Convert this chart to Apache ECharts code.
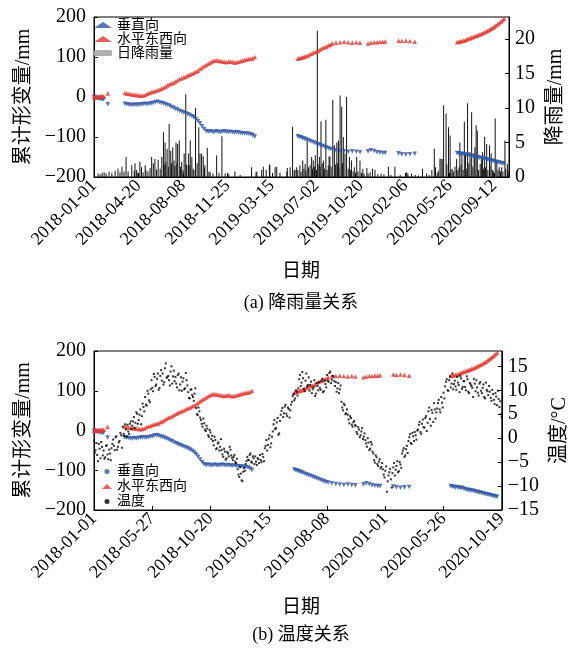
<!DOCTYPE html>
<html><head><meta charset="utf-8">
<script src="https://cdn.jsdelivr.net/npm/echarts@6/dist/echarts.min.js"></script>
<style>html,body{margin:0;padding:0;background:#fff}#c{width:578px;height:650px}</style>
</head><body><div id="c"></div>
<script>
// ---- data (day index from 2018-01-01) ----
const defDays = [0,3,6,9,12,15,18,21,24,34,
76,81,86,91,96,101,106,111,116,121,126,131,136,141,146,151,156,161,166,171,176,181,186,191,196,201,206,211,216,221,226,231,236,241,246,251,256,261,266,271,276,281,286,291,296,301,306,311,316,321,326,331,336,341,346,351,356,361,366,371,376,381,386,391,396,
502,506,510,514,518,522,527,532,537,542,547,552,557,562,567,572,577,582,587,596,606,616,626,636,646,655,675,682,690,697,704,711,717,750,758,768,778,790,
894,898,902,906,910,914,918,922,926,930,934,938,942,946,950,954,958,962,966,970,974,978,982,986,990,994,998,1002,1006,1010];
const vertical = [0,-2,-3,-2,-4,-5,-4,-6,-5,-18,
-17,-18,-19,-20,-20,-19,-20,-19,-18,-18,-17,-18,-17,-16,-15,-13,-12,-13,-15,-16,-18,-20,-22,-25,-27,-30,-32,-35,-37,-39,-41,-43,-45,-48,-51,-55,-60,-66,-73,-80,-85,-87,-86,-87,-88,-86,-87,-88,-87,-86,-87,-88,-87,-88,-89,-88,-89,-90,-91,-91,-92,-92,-93,-96,-99,
-98,-100,-101,-103,-104,-106,-108,-110,-112,-114,-116,-118,-120,-122,-124,-126,-128,-130,-131,-133,-135,-136,-137,-136,-137,-138,-136,-133,-135,-138,-139,-140,-140,-141,-143,-144,-143,-142,
-140,-141,-142,-143,-142,-144,-145,-144,-146,-147,-149,-150,-150,-151,-152,-153,-154,-155,-156,-157,-158,-159,-160,-161,-162,-163,-164,-165,-166,-167];
const horizontal = [0,1,-1,2,0,1,3,1,2,9,
10,9,8,7,6,6,5,4,3,4,5,8,10,12,14,15,17,18,21,23,26,29,32,34,36,39,42,45,47,49,51,54,56,58,61,63,66,70,74,77,80,83,86,89,91,92,91,90,89,88,87,88,89,88,86,87,88,90,91,93,94,95,96,97,100,
96,97,98,99,101,102,104,107,109,112,113,115,119,122,124,126,129,131,134,136,137,138,137,136,137,136,134,136,137,137,138,138,139,141,140,141,140,138,
137,138,139,140,141,142,144,146,147,149,150,152,153,155,156,158,160,162,164,166,168,171,173,176,179,182,185,188,192,196];
// daily rainfall [day, mm]
const rainfall = [[10,0.5],[15,0.4],[20,0.6],[25,0.7],[30,0.5],[37,0.8],[44,0.6],[52,0.9],[59,1.2],[64,0.7],[69,1.5],[74,0.8],
[79,2.9],[84,0.8],[93,1.7],[99,0.9],[101,2.0],[105,1.0],[108,0.6],[113,2.2],[117,1.4],[121,0.7],[126,1.7],[128,1.0],[133,0.8],[138,1.3],[142,2.9],[146,2.0],[150,2.6],[154,1.1],[158,2.5],[163,1.2],[167,2.9],[171,6.5],[173,1.8],[175,5.0],[177,2.2],[180,4.1],[183,1.5],[185,7.7],[189,3.8],[191,2.0],[194,4.3],[197,2.4],[199,1.6],[202,5.0],[204,2.0],[206,4.8],[210,5.3],[213,1.5],[216,2.2],[219,1.0],[222,3.4],[226,12.0],[228,1.8],[232,1.7],[233,3.4],[236,1.7],[237,5.3],[241,2.9],[244,1.2],[246,1.0],[250,10.0],[254,2.0],[258,7.2],[261,3.4],[265,3.4],[269,3.0],[272,1.2],[273,1.7],[279,4.2],[283,0.8],[286,0.7],[293,0.5],[302,3.1],[308,0.6],[315,5.9],[323,0.5],[332,0.4],[347,0.8],[360,0.3],
[388,1.4],[399,0.7],[401,0.8],[413,1.0],[417,1.5],[424,1.0],[432,1.8],[433,1.7],[446,1.4],[450,1.5],[458,0.6],[475,0.8],[476,1.3],[483,1.4],[489,7.3],[493,1.0],[495,1.0],[499,1.4],[502,1.0],[507,1.7],[510,0.8],[514,2.4],[517,1.2],[520,1.9],[522,0.9],[525,5.3],[528,1.4],[532,1.7],[536,2.9],[538,1.2],[540,2.4],[543,1.5],[545,3.1],[548,1.0],[550,21.2],[552,1.8],[555,2.9],[557,1.5],[559,8.1],[562,2.0],[565,2.4],[568,1.2],[571,8.3],[574,1.0],[577,1.7],[579,3.0],[581,2.9],[584,1.5],[588,11.2],[592,4.6],[595,1.8],[598,5.0],[600,2.0],[602,5.3],[603,1.4],[606,11.8],[610,10.2],[612,2.0],[614,5.8],[618,3.4],[622,11.6],[626,1.2],[629,2.9],[632,1.0],[634,2.4],[638,0.8],[641,1.4],[644,0.6],[647,2.9],[650,0.8],[655,2.4],[659,0.6],[662,1.2],[665,0.5],[672,1.3],[675,0.5],[680,0.7],[686,1.2],[692,1.0],[699,0.4],[707,0.5],[714,0.4],[725,1.5],[731,0.3],[741,1.5],[754,0.3],[770,0.7],[773,0.5],[782,0.5],[791,0.3],[799,0.2],[809,1.2],[819,0.5],[825,0.3],[832,1.0],[838,4.1],[841,1.4],[845,0.6],[848,0.9],[852,2.7],[855,2.6],[859,2.6],[861,10.4],[867,9.2],[869,1.8],[873,7.2],[877,6.0],[879,1.0],[882,1.2],[885,0.8],[889,1.5],[893,2.6],[896,1.0],[899,1.4],[901,5.0],[904,1.8],[906,3.6],[909,1.0],[912,8.0],[915,3.4],[918,1.2],[920,10.7],[923,2.0],[926,3.4],[930,9.4],[933,1.5],[936,3.4],[938,4.3],[941,7.5],[944,6.7],[947,1.0],[951,1.9],[954,2.6],[957,3.6],[959,1.2],[962,5.8],[964,1.4],[967,4.8],[970,1.0],[974,4.6],[975,1.6],[978,3.4],[981,1.0],[984,0.8],[988,8.5],[992,2.4],[995,1.0],[998,1.4],[1001,0.8],[1004,1.4],[1007,0.8],[1012,5.3],[1014,1.2],[1018,1.9],[1020,0.8]];
// temperature, every 4 days from day 0 (A) and from day 2 (B)
const tempA = [-0.5,-2.5,-3.5,-1.2,-4.2,-1.8, -2.6,-4,-1.5,-4.4,-3.2,-2.1, -0.3,-2.5,0.4,-1.8,-0.6,0.6, 2.4,0.5,1.8,2.8,0.9,3.5,
2.6,4.4,3.2,5.1,3.8,6.0,4.6,6.5, 8.6,6.8,9.3,7.5, 12.1,9.8,12.8,11.2,13.5,10.5,14.2, 13.5,11.7,15.6,12.8,12.1,13.9,11.4,14.1,
12.8,10.6,13.5,11.2,9.9,12.5,10.4,12.1, 9.6,8.3,10.2,8.6,9.3, 6.3,4.8,5.6, 3.8,2.4,3.1,1.5,2.0,0.3,1.2, 0.5,-1.5,-0.4,-2.1,-0.9,-1.8,
-2.5,-3.9,-2.8,-4.2,-3.2,-1.8,-3.6, -4.6,-3.5,-5.2, -6.5,-8.1,-7.4,-9.0,-6.2,-5.4, -3.9,-4.6,-3.2,-5.1,-4.2, -3.8,-5.6,-4.4,-3.5,-5.0,-3.9,
-2.1,-0.4,-1.4,0.6,-1.1, 1.4,3.8,2.1,4.2,1.0, 4.9,6.3,5.2,7.0,4.6,6.1,5.8, 7.6,9.2,8.3,9.7, 10.4,13.2,11.6,12.5,9.8,13.5,11.1,
9.9,11.8,10.2,12.1,9.3,10.9, 11.7,10.1,12.4,9.8,11.3, 13.2,11.8,13.9,12.2,12.9, 10.9,9.7,11.5,10.2, 7.6,5.8,6.9,5.2, 4.9,3.1,4.2,2.4,3.6,
2.6,0.9,1.8,0.6,2.1,0.3, -0.4,-1.8,-0.9,-2.2,-1.3, -3.2,-5.1,-4.0,-5.8,-4.4,-6.0, -6.5,-8.2,-5.9,-9.0,-7.1,-8.6, -7.3,-5.2,-6.6,-4.8,-6.9,-5.5,
-3.2,-2.1,-3.6,-1.6, -0.6,0.8,-1.2,0.4,1.3,-0.3, 1.8,3.4,0.9,3.9,2.2,4.6, 3.2,6.4,2.6,5.3,7.3,4.1, 6.2,8.0,5.4,7.4,9.5,
10.8,12.3,9.9,12.9,11.4,10.2, 12.0,10.1,11.6,9.6,12.5,10.7, 11.9,10.0,12.3,9.4,11.2,10.5,12.4,9.8, 10.6,8.9,11.7,9.4,11.2,8.3,10.1,9.0,
9.7,7.8,9.2,7.1,8.7,9.9,6.5, 5.0];
const tempB = [-3.0,-1.0,-4.8,-2.2,-0.8,-3.6, -4.3,-1.6,-3.4,-2.4,-4.6,-1.2, -1.6,0.2,-2.4,-0.9,1.1,-2.0, 0.9,2.9,0.3,1.4,3.0,1.9,
3.5,2.1,5.4,3.0,4.9,2.9,7.2,5.6, 7.0,9.9,7.9,10.2, 10.5,13.4,10.9,12.4,10.1,13.0,12.0, 11.2,14.6,12.6,13.0,11.0,15.0,12.9,11.9,
11.4,13.2,10.0,12.7,11.8,10.2,13.6,11.0, 8.4,10.1,9.0,7.8,10.4, 5.0,6.4,4.3, 3.0,4.1,1.8,2.6,0.6,1.7,-0.2, -0.6,0.3,-2.3,-1.1,-2.6,-0.2,
-3.4,-2.2,-4.5,-2.9,-3.8,-2.4,-4.1, -3.9,-4.9,-4.3, -7.6,-6.0,-8.8,-7.0,-6.8,-4.8, -4.5,-3.5,-4.9,-3.8,-5.4, -4.9,-4.2,-5.2,-4.6,-3.3,-4.8,
-1.6,-2.6,-0.1,-1.9,0.3, 2.9,1.9,3.3,0.7,3.6, 5.7,4.4,6.6,5.1,6.4,4.3,7.0, 8.8,7.9,10.0,8.9, 12.3,10.9,13.8,10.3,12.0,10.8,12.7,
11.1,9.4,10.6,8.8,11.5,10.0, 10.5,11.9,9.6,12.0,10.6, 12.0,13.6,11.5,13.0,11.9, 11.7,10.4,9.4,11.0, 6.4,7.2,5.0,6.0, 3.9,4.6,2.8,3.3,2.7,
1.3,2.3,0.2,1.4,-0.2,1.0, -1.1,0.0,-2.5,-0.8,-2.8, -4.6,-3.6,-5.4,-4.9,-6.3,-5.2, -7.6,-6.8,-11.2,-7.8,-6.4,-10.3, -6.1,-7.8,-5.8,-7.1,-5.0,-6.2,
-2.6,-3.9,-2.3,-3.1, 0.2,-1.0,1.1,-0.6,0.6,1.6, 2.8,1.3,3.0,2.3,4.2,1.5, 5.6,4.0,5.9,3.4,6.0,5.4, 7.3,6.0,8.6,6.4,8.3,
11.8,10.0,12.1,10.6,13.5,11.3, 10.8,12.8,11.1,13.0,10.3,11.9, 10.7,12.9,9.7,11.5,10.9,8.6,11.4,12.1, 9.5,11.4,9.9,10.5,8.6,11.6,9.8,10.9,
8.4,10.1,8.0,9.4,6.9,8.2,7.7, 4.4];
const topTickInterval = 109.5;   // 2018-01-01, 2018-04-20, ...
const bottomTickInterval = 146;  // 2018-01-01, 2018-05-27, ...
const lastDay = 1022;            // 2020-10-19

// ---- build ----
const FONT = "'Liberation Serif','Times New Roman','DejaVu Serif','Noto Sans CJK SC',serif";
const BLUE = '#2f55a4', RED = '#e03a32';
function dayLabel(d){const t=new Date(Date.UTC(2018,0,1)+Math.floor(d+1e-6)*86400000);return t.toISOString().slice(0,10);}
const minus = v => String(v).replace('-', '\u2212');
const vData = defDays.map((d,i)=>[d, vertical[i]]);
const hData = defDays.map((d,i)=>[d, horizontal[i]]);
const tData = tempA.map((v,i)=>[i*4, v]).concat(tempB.map((v,i)=>[i*4+2, v]));

function xAxis(grid, interval){
  return {type:'value', gridIndex:grid, min:0, max:lastDay, interval:interval,
    axisLine:{onZero:false, lineStyle:{color:'#000',width:1}}, splitLine:{show:false},
    axisTick:{inside:true,length:4,lineStyle:{color:'#000'}},
    axisLabel:{rotate:45, margin:6, color:'#000', fontSize:18, fontFamily:FONT, formatter:dayLabel, showMaxLabel: grid===1, showMinLabel:true}};
}
function yAxis(grid, pos, min, max, interval, name, gap){
  return {type:'value', gridIndex:grid, position:pos, min:min, max:max, interval:interval,
    name:name, nameLocation:'middle', nameRotate:90, nameGap:gap,
    nameTextStyle:{color:'#000', fontSize:20, fontFamily:FONT},
    axisLine:{show:true, onZero:false, lineStyle:{color:'#000',width:1}}, splitLine:{show:false},
    axisTick:{inside:true,length:4,lineStyle:{color:'#000'}},
    axisLabel:{color:'#000', fontSize:20, fontFamily:FONT, margin:pos==='left'?8:6, formatter:minus, showMaxLabel:(max%interval===0)}};
}
const tri = (name, data, color, rot, xi, yi) => ({name, type:'scatter', xAxisIndex:xi, yAxisIndex:yi, data,
  symbol:'triangle', symbolRotate:rot, symbolSize:4.6, itemStyle:{color}, z:3});

const option = {
  animation:false,
  textStyle:{fontFamily:FONT},
  grid:[
    {left:94, top:17, width:415, height:160, show:true, borderColor:'#000', borderWidth:1},
    {left:94, top:351, width:415, height:159, show:true, borderColor:'#000', borderWidth:1}
  ],
  xAxis:[xAxis(0, topTickInterval), xAxis(1, bottomTickInterval)],
  yAxis:[
    yAxis(0,'left',-200,200,100,'累计形变量/mm',58),
    yAxis(0,'right',0,23.2,5,'降雨量/mm',31),
    yAxis(1,'left',-200,200,100,'累计形变量/mm',58),
    yAxis(1,'right',-15,18.2,5,'温度/°C',35)
  ],
  legend:[
    {left:94, top:18, orient:'vertical', padding:0, itemGap:0, itemWidth:18, itemHeight:6,
     textStyle:{fontSize:14, lineHeight:13, color:'#000', fontFamily:FONT},
     data:['垂直向','水平东西向',{name:'日降雨量', itemStyle:{color:'#b0b0b0'}}]},
    {left:102, top:464, orient:'vertical', padding:0, itemGap:0, itemWidth:10, itemHeight:5,
     textStyle:{fontSize:14, lineHeight:15, color:'#000', fontFamily:FONT},
     data:[{name:'垂直向 ', icon:'circle'},'水平东西向 ',{name:'温度', icon:'circle'}]}
  ],
  graphic:[
    {type:'text', x:301, y:272, style:{text:'日期', align:'center', verticalAlign:'middle', fontSize:19, fontFamily:FONT, fill:'#000'}},
    {type:'text', x:301, y:303, style:{text:'(a) 降雨量关系', align:'center', verticalAlign:'middle', fontSize:18, fontFamily:FONT, fill:'#000'}},
    {type:'text', x:301, y:608, style:{text:'日期', align:'center', verticalAlign:'middle', fontSize:19, fontFamily:FONT, fill:'#000'}},
    {type:'text', x:301, y:635, style:{text:'(b) 温度关系', align:'center', verticalAlign:'middle', fontSize:18, fontFamily:FONT, fill:'#000'}}
  ],
  series:[
    {name:'日降雨量', type:'bar', xAxisIndex:0, yAxisIndex:1, data:rainfall, barWidth:1, itemStyle:{color:'#111'}, z:2},
    tri('垂直向', vData, BLUE, 180, 0, 0),
    tri('水平东西向', hData, RED, 0, 0, 0),
    tri('垂直向 ', vData, BLUE, 180, 1, 2),
    tri('水平东西向 ', hData, RED, 0, 1, 2),
    {name:'温度', type:'scatter', xAxisIndex:1, yAxisIndex:3, data:tData, symbol:'rect', symbolSize:2, itemStyle:{color:'#000'}, z:4}
  ]
};
const chart = echarts.init(document.getElementById('c'), null, {renderer:'canvas'});
chart.setOption(option);
</script></body></html>
